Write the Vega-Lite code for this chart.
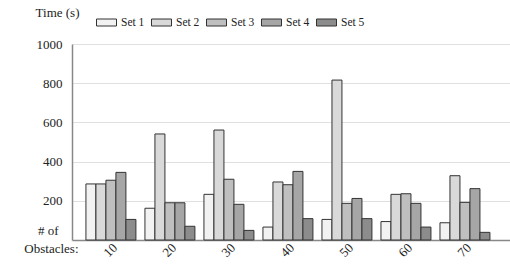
{
  "$schema": "https://vega.github.io/schema/vega-lite/v6.json",
  "width": 438,
  "height": 196,
  "autosize": {"type": "none"},
  "padding": {"left": 72, "top": 44, "right": 0, "bottom": 27},
  "background": "white",
  "config": {
    "font": "Liberation Serif",
    "view": {"stroke": null},
    "axis": {"labelColor": "#222", "titleColor": "#222", "titleFontWeight": "normal"}
  },
  "data": {
    "values": [
      {"n": "10", "set": "Set 1", "time": 286},
      {"n": "10", "set": "Set 2", "time": 286},
      {"n": "10", "set": "Set 3", "time": 305},
      {"n": "10", "set": "Set 4", "time": 345},
      {"n": "10", "set": "Set 5", "time": 105},
      {"n": "20", "set": "Set 1", "time": 162},
      {"n": "20", "set": "Set 2", "time": 541},
      {"n": "20", "set": "Set 3", "time": 190},
      {"n": "20", "set": "Set 4", "time": 190},
      {"n": "20", "set": "Set 5", "time": 70},
      {"n": "30", "set": "Set 1", "time": 233},
      {"n": "30", "set": "Set 2", "time": 561},
      {"n": "30", "set": "Set 3", "time": 310},
      {"n": "30", "set": "Set 4", "time": 182},
      {"n": "30", "set": "Set 5", "time": 49},
      {"n": "40", "set": "Set 1", "time": 66},
      {"n": "40", "set": "Set 2", "time": 296},
      {"n": "40", "set": "Set 3", "time": 282},
      {"n": "40", "set": "Set 4", "time": 350},
      {"n": "40", "set": "Set 5", "time": 109},
      {"n": "50", "set": "Set 1", "time": 105},
      {"n": "50", "set": "Set 2", "time": 816},
      {"n": "50", "set": "Set 3", "time": 187},
      {"n": "50", "set": "Set 4", "time": 212},
      {"n": "50", "set": "Set 5", "time": 109},
      {"n": "60", "set": "Set 1", "time": 94},
      {"n": "60", "set": "Set 2", "time": 233},
      {"n": "60", "set": "Set 3", "time": 236},
      {"n": "60", "set": "Set 4", "time": 187},
      {"n": "60", "set": "Set 5", "time": 66},
      {"n": "70", "set": "Set 1", "time": 88},
      {"n": "70", "set": "Set 2", "time": 328},
      {"n": "70", "set": "Set 3", "time": 192},
      {"n": "70", "set": "Set 4", "time": 262},
      {"n": "70", "set": "Set 5", "time": 39}
    ]
  },
  "mark": {"type": "bar", "stroke": "#333", "strokeWidth": 1},
  "encoding": {
    "x": {
      "field": "n", "type": "ordinal",
      "scale": {"paddingInner": 0.153, "paddingOuter": 0.288, "align": 0.41},
      "axis": {
        "labelAngle": -45, "labelFontSize": 13, "labelPadding": 1, "ticks": false,
        "domainColor": "#888", "domainWidth": 1.5,
        "title": ["# of\u2800\u2800", "Obstacles:"],
        "titleFontSize": 13, "titleAlign": "right", "titleAnchor": null,
        "titleX": 6, "titleY": -16, "titleBaseline": "top", "titleLineHeight": 18
      }
    },
    "xOffset": {"field": "set", "type": "nominal", "scale": {"paddingInner": 0, "paddingOuter": 0}},
    "y": {
      "field": "time", "type": "quantitative",
      "scale": {"domain": [0, 1000], "nice": false},
      "axis": {
        "values": [200, 400, 600, 800, 1000], "format": "d", "ticks": false, "labelPadding": 10, "labelFontSize": 13,
        "gridColor": "#e0e0e0", "gridWidth": 1.2, "domainColor": "#888", "domainWidth": 1.5,
        "title": "Time (s)", "titleAngle": 0, "titleFontSize": 13, "titleAlign": "center", "titleBaseline": "middle",
        "titleX": -15, "titleY": -32
      }
    },
    "fill": {
      "field": "set", "type": "nominal",
      "scale": {"range": ["#f2f2f2", "#d9d9d9", "#bfbfbf", "#a6a6a6", "#8c8c8c"]},
      "legend": {
        "title": null, "orient": "none", "direction": "horizontal",
        "legendX": 24, "legendY": -32,
        "symbolType": "M-1,-0.35H1V0.35H-1Z", "symbolSize": 400,
        "symbolStrokeColor": "#333", "symbolStrokeWidth": 1, "symbolFillColor": null,
        "labelFontSize": 11.5, "labelOffset": 4, "columnPadding": 4, "labelColor": "#222"
      }
    }
  }
}
